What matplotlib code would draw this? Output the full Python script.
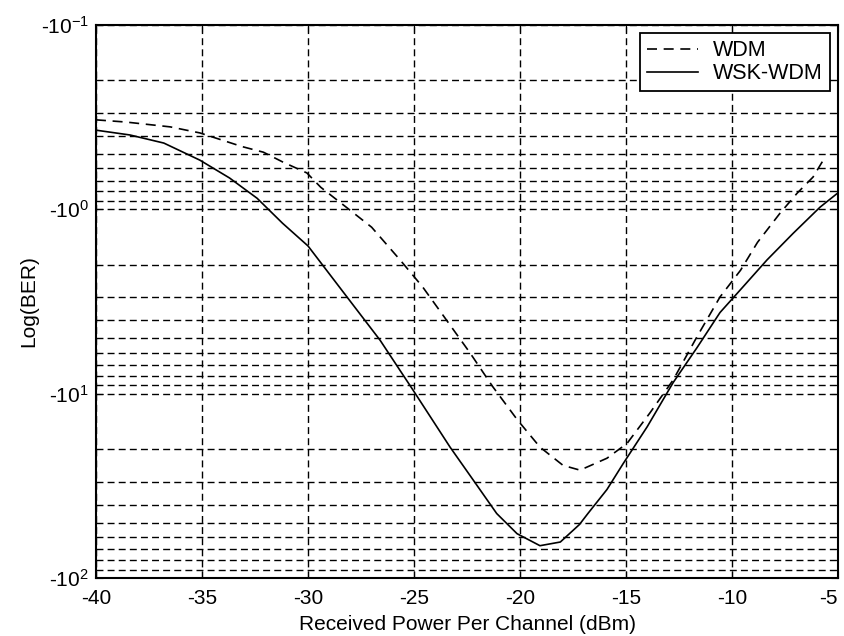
import matplotlib.pyplot as plt
from matplotlib.ticker import FixedLocator, LogLocator, NullFormatter

# values are magnitudes of the (negative) quantity shown on the axis as -10^n
wdm_x = [-40, -38.6, -36.5, -35.1, -33.1, -32.1, -31.2, -30.05, -29.4, -28.2,
         -27.0, -25.66, -24.6, -23.6, -22.35, -21.3, -20.14, -19.06, -17.97,
         -17.17, -15.9, -14.95, -13.87, -12.78, -11.65, -10.57, -9.6, -8.8,
         -7.74, -6.93, -6.18, -5.7]
wdm_y = [0.327, 0.336, 0.357, 0.385, 0.457, 0.490, 0.553, 0.635, 0.759, 0.973,
         1.25, 1.88, 2.63, 3.80, 6.03, 9.12, 13.8, 19.5, 24.5,
         26.0, 22.4, 18.6, 12.7, 8.43, 4.90, 2.99, 2.14, 1.51,
         1.05, 0.817, 0.668, 0.541]

wsk_x = [-40, -38.4, -36.8, -35.1, -33.7, -32.4, -31.2, -30.0, -28.16, -26.6,
         -25.05, -23.3, -22.2, -21.1, -20.14, -19.06, -18.1, -17.2, -16.8,
         -15.9, -15.14, -14.0, -12.78, -11.65, -10.57, -9.48, -8.35, -7.12,
         -5.85, -5.0]
wsk_y = [0.372, 0.395, 0.437, 0.541, 0.676, 0.871, 1.19, 1.58, 2.99, 5.13,
         9.55, 19.5, 29.5, 44.7, 57.5, 66.8, 63.8, 51.3, 44.7,
         33.1, 24.0, 15.1, 8.71, 5.62, 3.63, 2.63, 1.88, 1.35,
         0.973, 0.813]

x_ticks = [-40, -35, -30, -25, -20, -15, -10, -5]
y_ticks = [0.1, 1, 10, 100]
y_labels = ['-$\\mathregular{10^{-1}}$', '-$\\mathregular{10^{0}}$',
            '-$\\mathregular{10^{1}}$', '-$\\mathregular{10^{2}}$']

plt.rcParams['font.family'] = 'Liberation Sans'
plt.rcParams['mathtext.fontset'] = 'custom'
plt.rcParams['mathtext.rm'] = 'Liberation Sans'

fig = plt.figure(figsize=(8.44, 6.36), dpi=100)
ax = fig.add_axes([0.1137, 0.0912, 0.8793, 0.8695])

ax.plot(wdm_x, wdm_y, color='black', lw=1.2, linestyle=(0, (6, 4)), label='WDM')
ax.plot(wsk_x, wsk_y, color='black', lw=1.2, label='WSK-WDM')

ax.set_yscale('log')
ax.set_ylim(100, 0.1)
ax.set_xlim(-40, -5)
ax.set_xticks(x_ticks)
ax.set_xticklabels([str(t) for t in x_ticks])
ax.get_xticklabels()[-1].set_ha('right')
ax.yaxis.set_major_locator(FixedLocator(y_ticks))
ax.set_yticklabels(y_labels)
ax.yaxis.set_minor_locator(LogLocator(base=10, subs=range(2, 10)))
ax.yaxis.set_minor_formatter(NullFormatter())

grid_style = dict(color='black', linestyle=(0, (5, 3)), linewidth=1.0)
ax.grid(True, which='major', axis='both', **grid_style)
ax.grid(True, which='minor', axis='y', **grid_style)

ax.tick_params(which='both', direction='in', top=True, right=True, labelsize=15)
ax.tick_params(which='major', length=5)
ax.tick_params(which='minor', length=3)
ax.tick_params(axis='y', pad=5)
ax.tick_params(axis='x', pad=8)
for s in ax.spines.values():
    s.set_linewidth(1.5)

ax.set_xlabel('Received Power Per Channel (dBm)', fontsize=15, labelpad=5)
ax.set_ylabel('Log(BER)', fontsize=15, labelpad=2)

leg = ax.legend(loc='upper right', fontsize=15.5, fancybox=False, framealpha=1,
                edgecolor='black', borderaxespad=0.38, handlelength=2.4,
                handletextpad=0.7, borderpad=0.32, labelspacing=0.1)
leg.get_frame().set_linewidth(1.3)

fig.savefig('out.png', dpi=100)
